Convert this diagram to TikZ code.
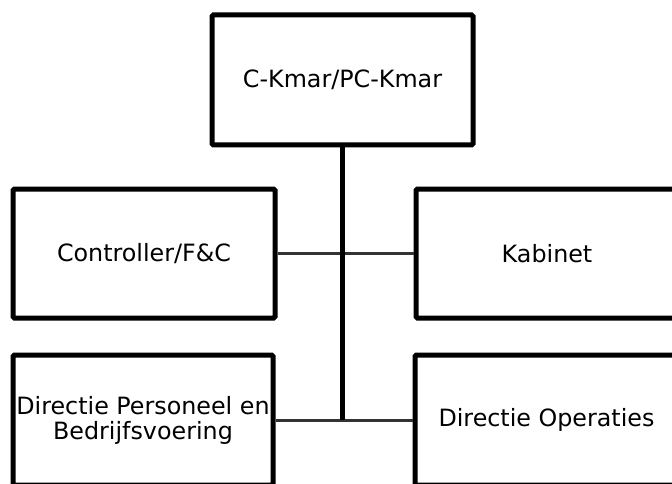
\documentclass[tikz,border=0pt]{standalone}
\usepackage{fontspec}
\setmainfont{DejaVu Sans}
\begin{document}
\begin{tikzpicture}[x=1pt,y=-1pt,
  box/.style={draw=black, line width=5pt, rounded corners=1.5pt, fill=white, inner sep=0pt,
    align=center, font=\fontsize{23.8}{25}\selectfont},
  trunk/.style={draw=black, line width=5pt},
  branch/.style={draw=black!80, line width=3pt}]
\useasboundingbox (0,0) rectangle (672,484);
\clip (0,0) rectangle (672,484);
\node[box, minimum width=261pt, minimum height=130pt] (top) at (342.5,80) {C-Kmar/PC-Kmar};
\node[box, minimum width=262pt, minimum height=129pt] (ctrl) at (144,253.5) {Controller/F\&C};
\node[box, minimum width=262pt, minimum height=129pt] (kab) at (547,253.5) {Kabinet};
\node[box, minimum width=260pt, minimum height=130pt] (dpb) at (143,420) {Directie Personeel en\\Bedrijfsvoering};
\node[box, minimum width=263pt, minimum height=130pt] (dop) at (546.5,420) {Directie Operaties};
\coordinate (jb) at (top.south |- dpb.east);
\draw[branch] (ctrl.east) -- (kab.west);
\draw[branch] (dpb.east) -- (dop.west);
\draw[trunk] (top.south) -- (jb);
\end{tikzpicture}
\end{document}
